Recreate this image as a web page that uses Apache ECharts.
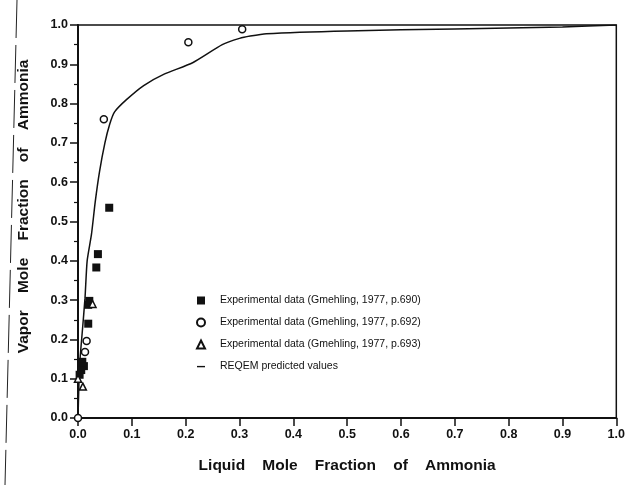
<!DOCTYPE html>
<html>
<head>
<meta charset="utf-8">
<script src="https://cdn.jsdelivr.net/npm/echarts@6/dist/echarts.min.js"></script>
<style>
  html, body { margin: 0; padding: 0; background: #fff; }
  #chart { width: 628px; height: 485px; }
</style>
</head>
<body>
<div id="chart"></div>
<script>
// tick labels
var ticks = [0, 0.1, 0.2, 0.3, 0.4, 0.5, 0.6, 0.7, 0.8, 0.9, 1.0];

// Gmehling 1977, p.690 (filled squares)
var sqX = [0.058, 0.037, 0.034, 0.019, 0.021, 0.019, 0.008, 0.011, 0.006, 0.003];
var sqY = [0.535, 0.417, 0.383, 0.288, 0.298, 0.240, 0.143, 0.132, 0.122, 0.110];

// Gmehling 1977, p.692 (open circles)
var ciX = [0, 0.013, 0.016, 0.048, 0.205, 0.305];
var ciY = [0, 0.168, 0.196, 0.760, 0.956, 0.989];

// Gmehling 1977, p.693 (open triangles)
var trX = [0.027, 0.000, 0.009];
var trY = [0.290, 0.100, 0.080];

// REQEM predicted curve
var cvX = [0, 0.003, 0.008, 0.013, 0.017, 0.025, 0.032, 0.04, 0.05, 0.059, 0.068, 0.09, 0.122, 0.16, 0.213, 0.268, 0.30, 0.32, 0.35, 0.5, 0.7, 0.9, 1.0];
var cvY = [0, 0.135, 0.22, 0.305, 0.40, 0.467, 0.55, 0.627, 0.70, 0.748, 0.779, 0.81, 0.846, 0.875, 0.904, 0.95, 0.966, 0.972, 0.978, 0.985, 0.99, 0.995, 1.0];

var names = [
    'Experimental data (Gmehling, 1977, p.690)'
    ,'Experimental data (Gmehling, 1977, p.692)'
    ,'Experimental data (Gmehling, 1977, p.693)'
    ,'REQEM predicted values'
];

function pairs(xs, ys) {
    var out = [];
    for (var i = 0; i < xs.length; i++) out.push([xs[i], ys[i]]);
    return out;
}

var font = 'Liberation Sans';
var ink = '#111';
var gap = '    ';

var myChart = echarts.init(document.getElementById('chart'), null, {renderer: 'canvas'});

var axisCommon = {
    type: 'value',
    min: 0,
    max: 1,
    interval: 0.1,
    splitLine: {show: false},
    axisLine: {show: true, onZero: false, lineStyle: {color: ink, width: 2}},
    axisTick: {show: true, inside: false, length: 8, lineStyle: {color: ink, width: 1.5}},
    axisLabel: {
        color: ink, fontFamily: font, fontWeight: 'bold', fontSize: 12.5, margin: 10,
        formatter: function (v) { return v.toFixed(1); }
    },
    nameLocation: 'middle',
    nameTextStyle: {color: ink, fontFamily: font, fontWeight: 'bold', fontSize: 15.5}
};

option = {
    backgroundColor: '#fff',
    animation: false,
    grid: {
        left: 78, right: 7, top: 25, bottom: 67,
        show: true, borderColor: ink, borderWidth: 1.5
    },
    xAxis: echarts.util.merge({
        name: ['Liquid', 'Mole', 'Fraction', 'of', 'Ammonia'].join(gap),
        nameGap: 40
    }, axisCommon),
    yAxis: echarts.util.merge({
        name: ['Vapor', 'Mole', 'Fraction', 'of', 'Ammonia'].join(gap),
        nameGap: 46,
        nameTextStyle: {padding: [0, 0, 0, 30]},
        minorTick: {show: true, splitNumber: 2, length: 4, lineStyle: {color: ink, width: 1.2}}
    }, axisCommon),
    legend: {
        orient: 'vertical',
        left: 191,
        top: 290,
        itemWidth: 8,
        itemHeight: 8,
        itemGap: 11,
        textStyle: {color: ink, fontFamily: font, fontSize: 10.5, padding: [0, 0, 0, 10]},
        data: [
            {name: names[0], icon: 'rect'}
            ,{name: names[1], icon: 'circle'}
            ,{name: names[2], icon: 'triangle'}
            ,{name: names[3], icon: 'path://M0,0M0,8M0,3.4L8,3.4L8,4.8L0,4.8Z'}
        ]
    },
    graphic: [{
        type: 'line',
        shape: {x1: 17, y1: 0, x2: 5, y2: 485},
        style: {stroke: '#222', lineWidth: 1, lineDash: [38, 7]},
        silent: true
    }],
    series: [
        {
            name: names[0],
            type: 'scatter',
            symbol: 'rect',
            symbolSize: 8,
            itemStyle: {color: ink, opacity: 1},
            data: pairs(sqX, sqY),
            z: 3
        },
        {
            name: names[1],
            type: 'scatter',
            symbol: 'circle',
            symbolSize: 7,
            itemStyle: {color: '#fff', borderColor: ink, borderWidth: 1.5, opacity: 1},
            data: pairs(ciX, ciY),
            z: 4
        },
        {
            name: names[2],
            type: 'scatter',
            symbol: 'triangle',
            symbolSize: 7,
            itemStyle: {color: '#fff', borderColor: ink, borderWidth: 1.5, opacity: 1},
            data: pairs(trX, trY),
            z: 4
        },
        {
            name: names[3],
            type: 'line',
            symbol: 'none',
            smooth: 0.2,
            lineStyle: {color: ink, width: 1.5},
            itemStyle: {color: ink},
            data: pairs(cvX, cvY),
            z: 2
        }
    ]
};

myChart.setOption(option);
</script>
</body>
</html>
